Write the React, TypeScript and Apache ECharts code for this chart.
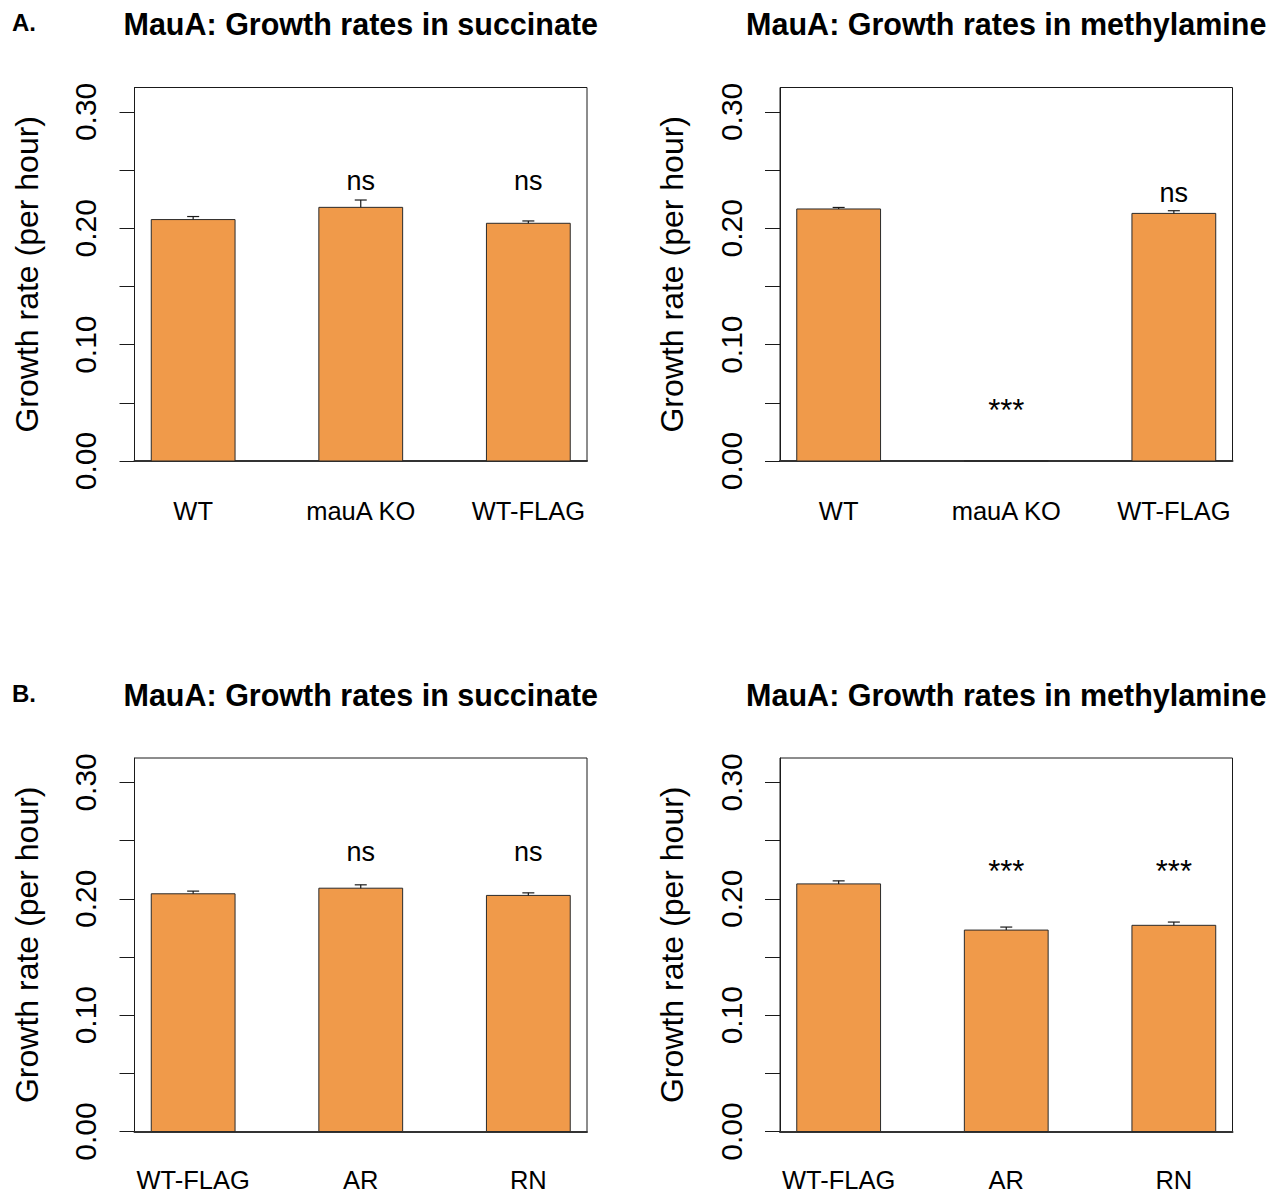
import React, { useEffect, useRef } from "react";
import * as echarts from "echarts";

// Strain groups shown in each row of panels
const strainsA = ["WT", "mauA KO", "WT-FLAG"];
const strainsB = ["WT-FLAG", "AR", "RN"];

// Mean growth rates (per hour) and standard errors
const succinateA = [0.2075, 0.218, 0.2043];
const succinateAErr = [0.0026, 0.0063, 0.002];
const methylamineA = [0.2166, 0, 0.2128];
const methylamineAErr = [0.0013, 0, 0.0023];
const succinateB = [0.2043, 0.2091, 0.2029];
const succinateBErr = [0.0023, 0.0029, 0.0022];
const methylamineB = [0.2128, 0.1731, 0.1772];
const methylamineBErr = [0.0026, 0.0026, 0.0028];

// Significance marks and the heights they are written at
const succinateASig = ["", "ns", "ns"];
const succinateASigY = [0, 0.2395, 0.2395];
const methylamineASig = ["", "***", "ns"];
const methylamineASigY = [0, 0.0484, 0.2296];
const succinateBSig = ["", "ns", "ns"];
const succinateBSigY = [0, 0.2397, 0.2397];
const methylamineBSig = ["", "***", "***"];
const methylamineBSigY = [0, 0.229, 0.229];

// Axis ticks
const yTickValues = [0, 0.05, 0.1, 0.15, 0.2, 0.25, 0.3];
const yLabelValues = [0, 0.1, 0.2, 0.3];
const barCenters = [1.5, 3.5, 5.5];

const titleSuccinate = "MauA: Growth rates in succinate";
const titleMethylamine = "MauA: Growth rates in methylamine";
const yName = "Growth rate (per hour)";

const FONT = "'Liberation Sans', Arial, Helvetica, sans-serif";
const BAR_FILL = "#F09A4A";
const INK = "#1a1a1a";

type Panel = {
  strains: string[];
  values: number[];
  errors: number[];
  sig: string[];
  sigY: number[];
  left: number;
  top: number;
  labelMargin: number;
  title: string;
};

const panels: Panel[] = [
  { strains: strainsA, values: succinateA, errors: succinateAErr, sig: succinateASig, sigY: succinateASigY, left: 134.5, top: 87.5, labelMargin: 40, title: titleSuccinate },
  { strains: strainsA, values: methylamineA, errors: methylamineAErr, sig: methylamineASig, sigY: methylamineASigY, left: 780, top: 87.5, labelMargin: 40, title: titleMethylamine },
  { strains: strainsB, values: succinateB, errors: succinateBErr, sig: succinateBSig, sigY: succinateBSigY, left: 134.5, top: 758, labelMargin: 38, title: titleSuccinate },
  { strains: strainsB, values: methylamineB, errors: methylamineBErr, sig: methylamineBSig, sigY: methylamineBSigY, left: 780, top: 758, labelMargin: 38, title: titleMethylamine },
];

const GRID_W = 452.5;
const GRID_H = 373.5;

function buildOption() {
  const grid: any[] = [];
  const xAxis: any[] = [];
  const yAxis: any[] = [];
  const series: any[] = [];
  const graphic: any[] = [];

  panels.forEach((p, i) => {
    grid.push({
      left: p.left,
      top: p.top,
      width: GRID_W,
      height: GRID_H,
      outerBoundsMode: "none",
      containLabel: false,
      show: true,
      borderColor: INK,
      borderWidth: 1,
      backgroundColor: "transparent",
    });
    xAxis.push({
      gridIndex: i,
      type: "value",
      min: 0.8,
      max: 6.2,
      axisLine: { show: true, onZero: false, lineStyle: { color: "#333", width: 2 } },
      axisTick: { show: false },
      splitLine: { show: false },
      axisLabel: {
        customValues: barCenters,
        formatter: (v: number) => {
          const k = barCenters.findIndex((c) => Math.abs(c - v) < 1e-6);
          return k >= 0 ? p.strains[k] : "";
        },
        margin: p.labelMargin,
        fontSize: 25.5,
        lineHeight: 20,
        color: "#000",
        fontFamily: FONT,
      },
    });
    yAxis.push({
      gridIndex: i,
      type: "value",
      min: 0,
      max: 0.321,
      axisLine: { show: true, lineStyle: { color: INK, width: 1 } },
      axisTick: { show: true, length: 15, customValues: yTickValues, lineStyle: { color: INK, width: 1 } },
      splitLine: { show: false },
      axisLabel: {
        customValues: yLabelValues,
        formatter: (v: number) => v.toFixed(2),
        rotate: 90,
        margin: 34,
        fontSize: 30,
        color: "#000",
        fontFamily: FONT,
      },
      name: yName,
      nameLocation: "middle",
      nameRotate: 90,
      nameGap: 92,
      nameTextStyle: { fontSize: 32, color: "#000", fontFamily: FONT },
    });

    const rows = p.values.map((v, k) => [barCenters[k], v, p.errors[k], p.sigY[k]]);
    series.push({
      type: "custom",
      xAxisIndex: i,
      yAxisIndex: i,
      data: rows,
      clip: false,
      renderItem: (params: any, api: any) => {
        const x = api.value(0);
        const v = api.value(1);
        const e = api.value(2);
        const sy = api.value(3);
        const label = p.sig[params.dataIndex];
        const base = api.coord([x - 0.5, 0]);
        const top = api.coord([x + 0.5, v]);
        const mid = api.coord([x, v + e]);
        const cx = (base[0] + top[0]) / 2;
        const children: any[] = [
          {
            type: "rect",
            shape: { x: base[0], y: top[1], width: top[0] - base[0], height: base[1] - top[1] },
            style: { fill: BAR_FILL, stroke: "#2a2a2a", lineWidth: 1 },
          },
        ];
        if (e > 0) {
          children.push(
            { type: "line", shape: { x1: cx, y1: top[1], x2: cx, y2: mid[1] }, style: { stroke: INK, lineWidth: 1.2 } },
            { type: "line", shape: { x1: cx - 6, y1: mid[1], x2: cx + 6, y2: mid[1] }, style: { stroke: INK, lineWidth: 1.2 } }
          );
        }
        if (label) {
          const lp = api.coord([x, sy]);
          const stars = label.indexOf("*") >= 0;
          children.push({
            type: "text",
            x: cx,
            y: lp[1] + (stars ? 6 : -1),
            style: {
              text: label,
              fontSize: stars ? 31 : 27,
              fontFamily: FONT,
              fill: "#000",
              align: "center",
              verticalAlign: "middle",
            },
          });
        }
        return { type: "group", children };
      },
    });

    graphic.push({
      type: "text",
      x: p.left + GRID_W / 2,
      y: p.top - 63.5,
      style: {
        text: p.title,
        fontSize: 30.5,
        fontWeight: "bold",
        fontFamily: FONT,
        fill: "#000",
        align: "center",
        verticalAlign: "middle",
      },
    });
  });

  graphic.push(
    { type: "text", x: 12, y: 22.5, style: { text: "A.", fontSize: 24, fontWeight: "bold", fontFamily: FONT, fill: "#000", align: "left", verticalAlign: "middle" } },
    { type: "text", x: 12, y: 693, style: { text: "B.", fontSize: 24, fontWeight: "bold", fontFamily: FONT, fill: "#000", align: "left", verticalAlign: "middle" } }
  );

  return {
    animation: false,
    backgroundColor: "#ffffff",
    grid,
    xAxis,
    yAxis,
    series,
    graphic,
  };
}

export default function App() {
  const ref = useRef<HTMLDivElement>(null);
  useEffect(() => {
    document.body.style.margin = "0";
    if (!ref.current) return;
    const chart = echarts.init(ref.current, undefined, { renderer: "svg" });
    chart.setOption(buildOption() as any);
    return () => chart.dispose();
  }, []);
  return <div ref={ref} style={{ width: 1279, height: 1193 }} />;
}
